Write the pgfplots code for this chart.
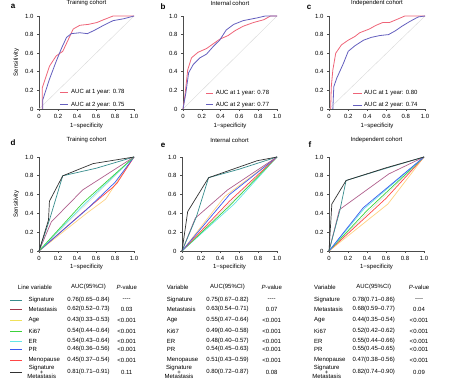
\documentclass[border=0pt]{standalone}
\usepackage{pgfplots}
\pgfplotsset{compat=1.18}
\usepackage{fontspec}
\setmainfont{Liberation Sans}
\definecolor{rocred}{RGB}{238,100,120}
\definecolor{rocblue}{RGB}{100,95,190}
\definecolor{csig}{RGB}{55,140,140}
\definecolor{cmet}{RGB}{175,95,140}
\definecolor{cmetl}{RGB}{160,55,75}
\definecolor{cage}{RGB}{255,210,130}
\definecolor{cagel}{RGB}{240,225,90}
\definecolor{cki}{RGB}{60,210,60}
\definecolor{cer}{RGB}{100,230,230}
\definecolor{cpr}{RGB}{60,90,240}
\definecolor{cmen}{RGB}{255,70,70}
\definecolor{csm}{RGB}{50,50,50}
\newcommand{\fs}{\fontsize{6}{7}\selectfont}
\tikzset{
  diag/.style={black!15, line width=0.4pt},
  rl/.style={line width=0.8pt},
  ml/.style={line width=0.7pt},
  legtxt/.style={anchor=west, font=\fs, inner sep=0pt},
}
\pgfplotsset{
  rocaxis/.style={
    scale only axis, xmin=0, xmax=1, ymin=0, ymax=1,
    axis lines=left, axis line style={-, draw=black!70, line width=0.6pt},
    xtick={0,0.2,0.4,0.6,0.8,1}, ytick={0,0.2,0.4,0.6,0.8,1},
    xticklabels={0,0.2,0.4,0.6,0.8,1.0}, yticklabels={0,0.2,0.4,0.6,0.8,1.0},
    tick style={draw=black!70, line width=0.6pt}, tick align=outside, major tick length=2pt,
    ticklabel style={font=\fs}, /pgf/number format/assume math mode=true,
    xlabel={1−specificity}, label style={font=\fs},
    x label style={at={(axis description cs:0.5,-0.18)}, anchor=center},
    y label style={at={(axis description cs:-0.24,0.5)}, anchor=center, rotate=0},
    title style={font=\fs, anchor=center},
    clip=false,
  },
  row1/.style={rocaxis, width=95pt, height=93pt,
    title style={at={(axis description cs:0.5,1.075)}},
  },
  row2/.style={rocaxis, width=95pt, height=94pt,
    title style={at={(axis description cs:0.5,1.115)}},
    x label style={at={(axis description cs:0.5,-0.17)}},
  },
}
\begin{document}
\begin{tikzpicture}[x=1pt,y=1pt]
\path[use as bounding box] (0,0) rectangle (452,383);
% ---------- a ----------
\begin{axis}[row1, at={(39pt,274pt)}, anchor=south west, title={Training cohort}, ylabel={Sensitivity}]
\addplot[diag] coordinates {(0,0)(1,1)};
\addplot[rocred, rl] coordinates {(0.035,0)(0.035,0.23)(0.11,0.46)(0.18,0.57)(0.25,0.62)(0.31,0.75)(0.36,0.86)(0.43,0.90)(0.52,0.91)(0.61,0.93)(0.68,0.96)(0.78,1.0)(1,1)};
\addplot[rocblue, rl] coordinates {(0.04,0)(0.04,0.1)(0.11,0.32)(0.18,0.51)(0.24,0.66)(0.29,0.77)(0.34,0.81)(0.43,0.82)(0.51,0.81)(0.59,0.85)(0.68,0.90)(0.78,0.95)(0.89,0.97)(1,1)};
\draw[rocred, rl] (rel axis cs:0.221,0.18) -- (rel axis cs:0.305,0.18);
\node[legtxt] at (rel axis cs:0.337,0.18) {AUC at 1 year: 0.78};
\draw[rocblue, rl] (rel axis cs:0.221,0.045) -- (rel axis cs:0.305,0.045);
\node[legtxt] at (rel axis cs:0.337,0.045) {AUC at 2 year: 0.75};
\end{axis}
% ---------- b ----------
\begin{axis}[row1, at={(183pt,274pt)}, anchor=south west, width=94pt, title={Internal cohort}]
\addplot[diag] coordinates {(0,0)(1,1)};
\addplot[rocred, rl] coordinates {(0,0)(0.02,0.14)(0.05,0.42)(0.09,0.55)(0.16,0.61)(0.25,0.65)(0.32,0.70)(0.39,0.75)(0.48,0.79)(0.55,0.84)(0.64,0.89)(0.75,0.93)(0.86,0.96)(0.93,1.0)(1,1)};
\addplot[rocblue, rl] coordinates {(0,0)(0.03,0.17)(0.06,0.39)(0.11,0.48)(0.18,0.55)(0.25,0.59)(0.32,0.67)(0.39,0.74)(0.46,0.85)(0.54,0.91)(0.64,0.95)(0.79,0.98)(0.875,1.0)(1,1)};
\draw[rocred, rl] (rel axis cs:0.245,0.17) -- (rel axis cs:0.32,0.17);
\node[legtxt] at (rel axis cs:0.348,0.17) {AUC at 1 year: 0.78};
\draw[rocblue, rl] (rel axis cs:0.245,0.045) -- (rel axis cs:0.32,0.045);
\node[legtxt] at (rel axis cs:0.348,0.045) {AUC at 2 year: 0.77};
\end{axis}
% ---------- c ----------
\begin{axis}[row1, at={(329pt,274pt)}, anchor=south west, width=96pt, title={Independent cohort}]
\addplot[diag] coordinates {(0,0)(1,1)};
\addplot[rocred, rl] coordinates {(0.017,0)(0.024,0.24)(0.04,0.42)(0.07,0.60)(0.13,0.69)(0.20,0.74)(0.27,0.78)(0.32,0.82)(0.42,0.86)(0.49,0.90)(0.56,0.93)(0.63,0.93)(0.70,0.96)(0.79,1.0)(1,1)};
\addplot[rocblue, rl] coordinates {(0.04,0)(0.05,0.24)(0.08,0.33)(0.15,0.49)(0.20,0.62)(0.27,0.68)(0.36,0.74)(0.44,0.77)(0.53,0.79)(0.62,0.80)(0.69,0.84)(0.76,0.89)(0.84,0.94)(0.93,0.99)(1,1)};
\draw[rocred, rl] (rel axis cs:0.25,0.17) -- (rel axis cs:0.34,0.17);
\node[legtxt] at (rel axis cs:0.365,0.17) {AUC at 1 year: 0.80};
\draw[rocblue, rl] (rel axis cs:0.25,0.04) -- (rel axis cs:0.34,0.04);
\node[legtxt] at (rel axis cs:0.365,0.04) {AUC at 2 year: 0.74};
\end{axis}
% ---------- d ----------
\begin{axis}[row2, at={(39pt,132pt)}, anchor=south west, title={Training cohort}, ylabel={Sensitivity}]
\addplot[diag] coordinates {(0,0)(1,1)};
\addplot[cage, ml] coordinates {(0,0)(0.5,0.40)(0.70,0.55)(0.85,0.78)(1,1)};
\addplot[cmen, ml] coordinates {(0,0)(0.45,0.40)(0.78,0.68)(0.82,0.72)(1,1)};
\addplot[cpr, ml] coordinates {(0,0)(0.5,0.44)(0.80,0.73)(1,1)};
\addplot[cer, ml] coordinates {(0,0)(0.47,0.49)(1,1)};
\addplot[cki, ml] coordinates {(0,0)(0.46,0.51)(1,1)};
\addplot[cmet, ml] coordinates {(0,0)(0.13,0.31)(0.46,0.65)(1,1)};
\addplot[csig, ml] coordinates {(0,0)(0.11,0.33)(0.25,0.80)(0.60,0.88)(1,1)};
\addplot[csm, ml] coordinates {(0,0)(0.10,0.33)(0.11,0.53)(0.25,0.80)(0.57,0.93)(1,1)};
\end{axis}
% ---------- e ----------
\begin{axis}[row2, at={(182pt,132pt)}, anchor=south west, title={Internal cohort}]
\addplot[diag] coordinates {(0,0)(1,1)};
\addplot[cer, ml] coordinates {(0,0)(0.55,0.50)(1,1)};
\addplot[cki, ml] coordinates {(0,0)(0.5,0.48)(1,1)};
\addplot[cmen, ml] coordinates {(0,0)(0.5,0.53)(1,1)};
\addplot[cage, ml] coordinates {(0,0)(0.45,0.58)(1,1)};
\addplot[cpr, ml] coordinates {(0,0)(0.5,0.60)(1,1)};
\addplot[cmet, ml] coordinates {(0,0)(0.14,0.35)(0.48,0.65)(1,1)};
\addplot[csig, ml] coordinates {(0,0)(0.15,0.36)(0.28,0.78)(0.60,0.87)(1,1)};
\addplot[csm, ml] coordinates {(0,0)(0.06,0.42)(0.28,0.78)(0.79,0.96)(1,1)};
\end{axis}
% ---------- f ----------
\begin{axis}[row2, at={(329pt,132pt)}, anchor=south west, title={Independent cohort}]
\addplot[diag] coordinates {(0,0)(1,1)};
\addplot[cage, ml] coordinates {(0,0)(0.62,0.50)(1,1)};
\addplot[cmen, ml] coordinates {(0,0)(0.60,0.56)(1,1)};
\addplot[cki, ml] coordinates {(0,0)(0.40,0.43)(1,1)};
\addplot[cer, ml] coordinates {(0,0)(0.37,0.45)(1,1)};
\addplot[cpr, ml] coordinates {(0,0)(0.36,0.46)(1,1)};
\addplot[cmet, ml] coordinates {(0,0)(0.11,0.44)(0.63,0.82)(1,1)};
\addplot[csig, ml] coordinates {(0,0)(0.115,0.435)(0.18,0.75)(0.60,0.88)(1,1)};
\addplot[csm, ml] coordinates {(0,0)(0.03,0.50)(0.18,0.75)(0.60,0.885)(1,1)};
\end{axis}
% ---------- panel letters ----------
\begin{scope}[every node/.style={font=\fontsize{8}{9}\selectfont\bfseries, anchor=center}]
\node at (13,377) {a}; \node at (163,376) {b}; \node at (309,376) {c};
\node at (13,240) {d}; \node at (163,238) {e}; \node at (310,238) {f};
\end{scope}
% ---------- tables ----------
\newcommand{\dsh}{-{}-{}-{}-}
\begin{scope}[every node/.style={font=\fs, inner sep=0pt}]
% left
\node at (35,96) {Line variable}; \node at (88.5,96) {AUC(95\%CI)}; \node at (126.7,96) {\textit{P}-value};
\foreach \y/\c/\n/\a/\p in {83/csig/Signature/0.76(0.65--0.84)/\dsh, 74/cmetl/Metastasis/0.62(0.52--0.73)/0.03, 62.7/cagel/Age/0.43(0.33--0.53)/<0.001, 52/cki/Ki67/0.54(0.44--0.64)/<0.001, 42/cer/ER/0.54(0.43--0.64)/<0.001, 33.7/cpr/PR/0.46(0.36--0.56)/<0.001, 23/cmen/Menopause/0.45(0.37--0.54)/<0.001}{
  \draw[\c, line width=0.8pt] (10,\y) -- (22,\y);
  \node[anchor=west] at (28.3,\y) {\n}; \node at (88.5,\y) {\a}; \node at (126.7,\y) {\p};
}
\draw[csm, line width=0.8pt] (10,10.7) -- (22,10.7);
\node[align=center] at (41.7,10.7) {Signature\\[-2.5pt]+\\[-2.5pt]Metastasis};
\node at (88.5,10.7) {0.81(0.71--0.91)}; \node at (126.7,10.7) {0.11};
% middle
\node[anchor=west] at (166.7,96) {Variable}; \node at (227.5,96) {AUC(95\%CI)}; \node at (271.7,96) {\textit{P}-value};
\foreach \y/\n/\a/\p in {83/Signature/0.75(0.67--0.82)/\dsh, 74/Metastasis/0.63(0.54--0.71)/0.07, 62.7/Age/0.55(0.47--0.64)/<0.001, 52/Ki67/0.49(0.40--0.58)/<0.001, 42/ER/0.48(0.40--0.57)/<0.001, 33.7/PR/0.54(0.45--0.63)/<0.001, 23/Menopause/0.51(0.43--0.59)/<0.001}{
  \node[anchor=west] at (166.7,\y) {\n}; \node at (227.5,\y) {\a}; \node at (271.7,\y) {\p};
}
\node[align=center] at (179,10.7) {Signature\\[-2.5pt]+\\[-2.5pt]Metastasis};
\node at (227.5,10.7) {0.80(0.72--0.87)}; \node at (271.7,10.7) {0.08};
% right
\node[anchor=west] at (314,96) {Variable}; \node at (373.7,96) {AUC(95\%CI)}; \node at (419,96) {\textit{P}-value};
\foreach \y/\n/\a/\p in {83/Signature/0.78(0.71--0.86)/\dsh, 74/Metastasis/0.68(0.59--0.77)/0.04, 62.7/Age/0.44(0.35--0.54)/<0.001, 52/Ki67/0.52(0.42--0.62)/<0.001, 42/ER/0.55(0.44--0.66)/<0.001, 33.7/PR/0.55(0.45--0.65)/<0.001, 23/Menopause/0.47(0.38--0.56)/<0.001}{
  \node[anchor=west] at (314,\y) {\n}; \node at (373.7,\y) {\a}; \node at (419,\y) {\p};
}
\node[align=center] at (326.7,10.7) {Signature\\[-2.5pt]+\\[-2.5pt]Metastasis};
\node at (373.7,10.7) {0.82(0.74--0.90)}; \node at (419,10.7) {0.09};
\end{scope}
\end{tikzpicture}
\end{document}
